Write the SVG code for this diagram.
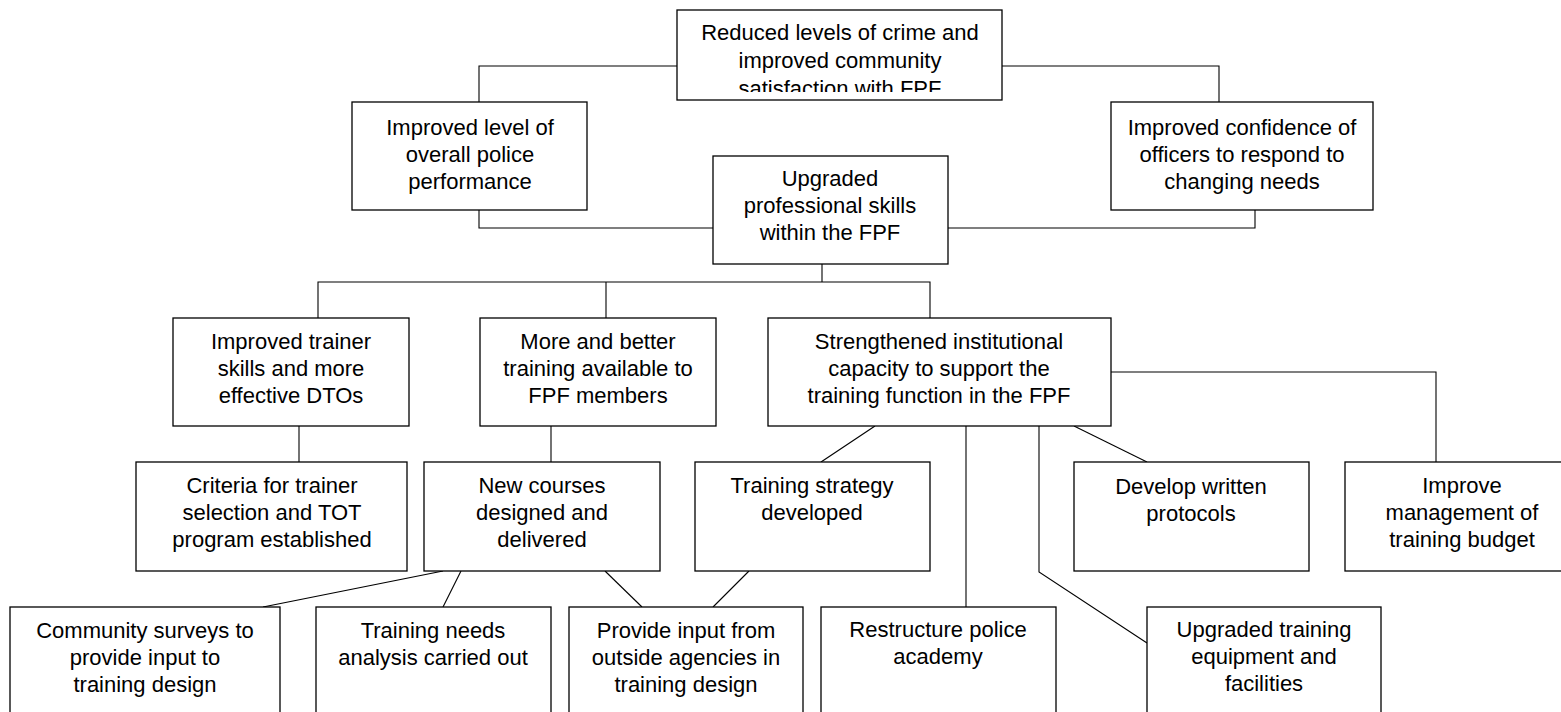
<svg xmlns="http://www.w3.org/2000/svg" width="1561" height="712" viewBox="0 0 1561 712">
<style>
.b{fill:#fff;stroke:#000;stroke-width:1.3}
.c{fill:none;stroke:#000;stroke-width:1.1}
text{font-family:"Liberation Sans",Arial,sans-serif;font-size:22px;fill:#000;text-anchor:middle}
</style>
<defs>
<clipPath id="clipTop"><rect x="677" y="10" width="325" height="82"/></clipPath>
</defs>
<rect width="1561" height="712" fill="#fff"/>
<g id="connectors">
<path class="c" d="M677,66 H479 V102"/>
<path class="c" d="M1002,66 H1219 V102"/>
<path class="c" d="M479,210 V228 H713"/>
<path class="c" d="M1255,210 V228 H948"/>
<path class="c" d="M822,264 V282"/>
<path class="c" d="M318,318 V282 H930 V318"/>
<path class="c" d="M606,282 V318"/>
<path class="c" d="M1111,372 H1436 V462"/>
<path class="c" d="M299,426 V462"/>
<path class="c" d="M551,426 V462"/>
<path class="c" d="M875,426 L821,462"/>
<path class="c" d="M966,426 V607"/>
<path class="c" d="M1039,426 V572 L1147,643"/>
<path class="c" d="M1074,426 L1147,462"/>
<path class="c" d="M443,571 L263,607"/>
<path class="c" d="M461,571 L443,607"/>
<path class="c" d="M605,571 L642,607"/>
<path class="c" d="M749,571 L713,607"/>
</g>
<g id="n-top">
<rect class="b" x="677" y="10" width="325" height="90"/>
<g clip-path="url(#clipTop)">
<text x="840" y="40">Reduced levels of crime and</text>
<text x="840" y="68">improved community</text>
<text x="840" y="96">satisfaction with FPF</text>
</g>
</g>
<g id="n-police">
<rect class="b" x="352" y="102" width="235" height="108"/>
<text x="470" y="135">Improved level of</text>
<text x="470" y="162">overall police</text>
<text x="470" y="189">performance</text>
</g>
<g id="n-confidence">
<rect class="b" x="1111" y="102" width="262" height="108"/>
<text x="1242" y="135">Improved confidence of</text>
<text x="1242" y="162">officers to respond to</text>
<text x="1242" y="189">changing needs</text>
</g>
<g id="n-upgraded">
<rect class="b" x="713" y="156" width="235" height="108"/>
<text x="830" y="186">Upgraded</text>
<text x="830" y="213">professional skills</text>
<text x="830" y="240">within the FPF</text>
</g>
<g id="n-trainer">
<rect class="b" x="173" y="318" width="236" height="108"/>
<text x="291" y="349">Improved trainer</text>
<text x="291" y="376">skills and more</text>
<text x="291" y="403">effective DTOs</text>
</g>
<g id="n-more">
<rect class="b" x="480" y="318" width="236" height="108"/>
<text x="598" y="349">More and better</text>
<text x="598" y="376">training available to</text>
<text x="598" y="403">FPF members</text>
</g>
<g id="n-strength">
<rect class="b" x="768" y="318" width="343" height="108"/>
<text x="939" y="349">Strengthened institutional</text>
<text x="939" y="376">capacity to support the</text>
<text x="939" y="403">training function in the FPF</text>
</g>
<g id="n-criteria">
<rect class="b" x="136" y="462" width="271" height="109"/>
<text x="272" y="493">Criteria for trainer</text>
<text x="272" y="520">selection and TOT</text>
<text x="272" y="547">program established</text>
</g>
<g id="n-courses">
<rect class="b" x="424" y="462" width="236" height="109"/>
<text x="542" y="493">New courses</text>
<text x="542" y="520">designed and</text>
<text x="542" y="547">delivered</text>
</g>
<g id="n-strategy">
<rect class="b" x="695" y="462" width="235" height="109"/>
<text x="812" y="493">Training strategy</text>
<text x="812" y="520">developed</text>
</g>
<g id="n-protocols">
<rect class="b" x="1074" y="462" width="235" height="109"/>
<text x="1191" y="494">Develop written</text>
<text x="1191" y="521">protocols</text>
</g>
<g id="n-budget">
<rect class="b" x="1345" y="462" width="235" height="109"/>
<text x="1462" y="493">Improve</text>
<text x="1462" y="520">management of</text>
<text x="1462" y="547">training budget</text>
</g>
<g id="n-surveys">
<rect class="b" x="10" y="607" width="270" height="120"/>
<text x="145" y="638">Community surveys to</text>
<text x="145" y="665">provide input to</text>
<text x="145" y="692">training design</text>
</g>
<g id="n-needs">
<rect class="b" x="316" y="607" width="235" height="120"/>
<text x="433" y="638">Training needs</text>
<text x="433" y="665">analysis carried out</text>
</g>
<g id="n-outside">
<rect class="b" x="569" y="607" width="234" height="120"/>
<text x="686" y="638">Provide input from</text>
<text x="686" y="665">outside agencies in</text>
<text x="686" y="692">training design</text>
</g>
<g id="n-academy">
<rect class="b" x="821" y="607" width="235" height="120"/>
<text x="938" y="637">Restructure police</text>
<text x="938" y="664">academy</text>
</g>
<g id="n-equipment">
<rect class="b" x="1147" y="607" width="234" height="120"/>
<text x="1264" y="637">Upgraded training</text>
<text x="1264" y="664">equipment and</text>
<text x="1264" y="691">facilities</text>
</g>
</svg>
